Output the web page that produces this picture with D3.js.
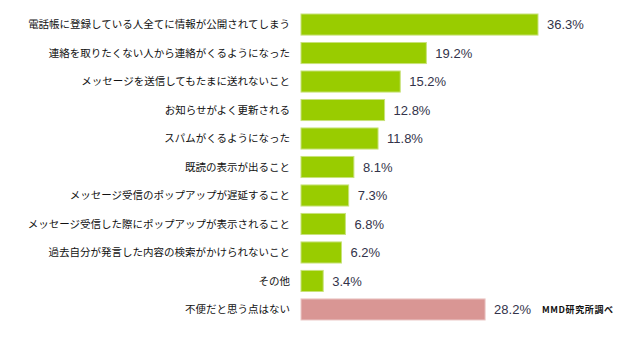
<!DOCTYPE html>
<html>
<head>
<meta charset="utf-8">
<script src="https://cdn.jsdelivr.net/npm/d3@7"></script>
<style>
  body { margin: 0; background: #fff; }
  svg { display: block; }
</style>
</head>
<body>
<script>
// data
var labels = [
    "電話帳に登録している人全てに情報が公開されてしまう",
    "連絡を取りたくない人から連絡がくるようになった",
    "メッセージを送信してもたまに送れないこと",
    "お知らせがよく更新される",
    "スパムがくるようになった",
    "既読の表示が出ること",
    "メッセージ受信のポップアップが遅延すること",
    "メッセージ受信した際にポップアップが表示されること",
    "過去自分が発言した内容の検索がかけられないこと",
    "その他",
    "不便だと思う点はない"
];
var values = [36.3, 19.2, 15.2, 12.8, 11.8, 8.1, 7.3, 6.8, 6.2, 3.4, 28.2];
var source = "MMD研究所調べ";

function init()
{
    var w = 640;
    var h = 351;

    var svg = d3.select("body")
                .append("svg")
                .attr("width", w)
                .attr("height", h);

    var x = d3.scaleLinear()
              .domain([0, 36.3])
              .range([301, 538]);

    var y = d3.scaleBand()
              .domain(labels)
              .range([14, 320])
              .paddingInner(0.26)
              .paddingOuter(0);

    var rows = svg.selectAll("g.row")
                  .data(labels)
                  .enter()
                  .append("g")
                  .attr("class", "row");

    rows.append("rect")
        .attr("x", x(0))
        .attr("y", function(d) { return y(d); })
        .attr("width", function(d, i) { return x(values[i]) - x(0); })
        .attr("height", y.bandwidth())
        .style("fill", function(d, i) { return i == labels.length - 1 ? "#d99694" : "#99cc00"; })
        .style("stroke", function(d, i) { return i == labels.length - 1 ? "#ebc9c8" : "#c8e27a"; })
        .style("stroke-width", 1);

    // category labels
    rows.append("text")
        .attr("x", 290)
        .attr("y", function(d) { return y(d) + y.bandwidth() / 2; })
        .attr("dy", "0.35em")
        .attr("text-anchor", "end")
        .style("font-family", "'Noto Sans CJK JP', sans-serif")
        .style("font-size", "10.5px")
        .style("fill", "#111")
        .text(function(d) { return d; });

    // value labels
    rows.append("text")
        .attr("x", function(d, i) { return x(values[i]) + 9; })
        .attr("y", function(d) { return y(d) + y.bandwidth() / 2; })
        .attr("dy", "0.36em")
        .style("font-family", "'Liberation Sans', Arial, sans-serif")
        .style("font-size", "13px")
        .style("fill", "#33334a")
        .text(function(d, i) { return values[i].toFixed(1) + "%"; });

    svg.append("text")
       .attr("x", 542)
       .attr("y", y(labels[labels.length - 1]) + y.bandwidth() / 2)
       .attr("dy", "0.35em")
       .style("font-family", "'Noto Sans CJK JP', sans-serif")
       .style("font-size", "9px")
       .style("font-weight", "bold")
       .style("letter-spacing", "0.6px")
       .style("fill", "#111")
       .text(source);
}
window.onload = init
</script>
</body>
</html>
